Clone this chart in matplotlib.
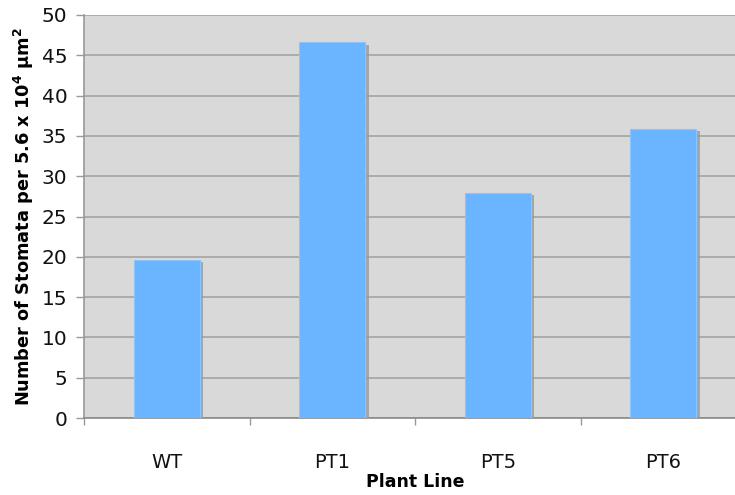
import matplotlib
matplotlib.use("Agg")
import matplotlib.pyplot as plt
import matplotlib.patheffects as pe
import numpy as np

categories = ["WT", "PT1", "PT5", "PT6"]
values = [19.6, 46.6, 27.9, 35.9]
yticks = [0, 5, 10, 15, 20, 25, 30, 35, 40, 45, 50]

fig = plt.figure(figsize=(7.35, 4.95), dpi=100)
fig.patch.set_facecolor("white")
ax = fig.add_axes([84/735, 1 - 418/495, 662/735, 403/495])
ax.set_facecolor("#d9d9d9")

x = np.arange(len(categories))
bars = ax.bar(x, values, width=0.40, color="#6bb4ff", edgecolor="#8cc4ff",
              linewidth=0.8, zorder=3)
for b in bars:
    b.set_path_effects([pe.SimplePatchShadow(offset=(2.5, -1.6), shadow_rgbFace="#9a9a9a", alpha=0.8),
                        pe.Normal()])

ax.set_xlim(-0.5, len(categories) - 0.5)
ax.set_ylim(0, 50)
ax.set_yticks(yticks)
ax.set_yticklabels([str(v) for v in yticks], fontsize=14.5, color="#111111")
ax.yaxis.grid(True, color="#a3a3a3", linewidth=1.2, zorder=0)
ax.set_axisbelow(True)

ax.set_xticks(x)
ax.set_xticklabels(categories, fontsize=14, color="#111111")
ax.set_xticks(np.arange(len(categories) + 1) - 0.5, minor=True)
ax.tick_params(axis="x", which="major", length=0, pad=25)
ax.tick_params(axis="x", which="minor", length=5, color="#999999", width=1)
ax.tick_params(axis="y", length=6, color="#999999", width=1, pad=6)

for s in ["top", "right"]:
    ax.spines[s].set_visible(False)
ax.spines["left"].set_color("#999999")
ax.spines["left"].set_linewidth(1.2)
ax.spines["bottom"].set_color("#8a8a8a")
ax.spines["bottom"].set_linewidth(1.2)

ax.set_xlabel("Plant Line", fontsize=12.5, fontweight="bold", labelpad=1)
ax.set_ylabel(r"Number of Stomata per 5.6 x 10$^{\mathbf{4}}$ μm$^{\mathbf{2}}$", fontsize=12.8,
              fontweight="bold", labelpad=4)

fig.savefig("out.png", dpi=100)
